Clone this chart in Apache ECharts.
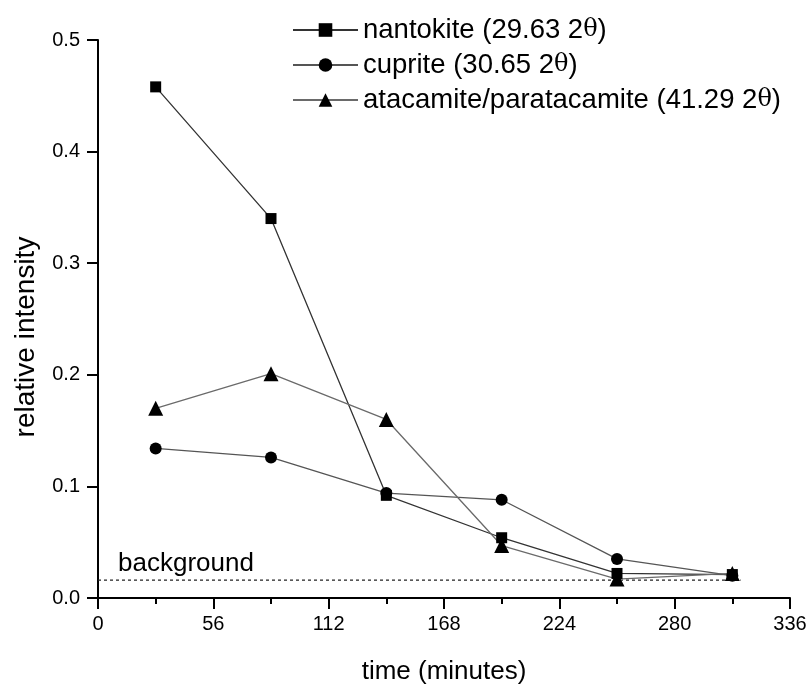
<!DOCTYPE html>
<html>
<head>
<meta charset="utf-8">
<script src="https://cdn.jsdelivr.net/npm/echarts@6/dist/echarts.min.js"></script>
<style>
  html, body { margin: 0; padding: 0; background: #fff; }
  #chart { width: 811px; height: 690px; }
</style>
</head>
<body>
<div id="chart"></div>
<script>
// sampling times (minutes)
const times = [28, 84, 140, 196, 252, 308];
const nantokite = [0.458, 0.340, 0.092, 0.054, 0.022, 0.021];
const cuprite = [0.134, 0.126, 0.094, 0.088, 0.035, 0.020];
const atacamite = [0.170, 0.201, 0.160, 0.047, 0.017, 0.022];
const backgroundLevel = 0.016;
const backgroundSpan = [0, 312];

const names = [
    'nantokite (29.63 2θ)',
    'cuprite (30.65 2θ)',
    'atacamite/paratacamite (41.29 2θ)'
];

const font = 'Liberation Sans, Arial, sans-serif';
const chart = echarts.init(document.getElementById('chart'));

const pairs = (ys) => times.map((t, i) => [t, ys[i]]);

const mkSeries = (name, ys, symbol, size, lineColor) => ({
    type: 'line',
    name: name,
    data: pairs(ys),
    symbol: symbol,
    symbolSize: size,
    showAllSymbol: true,
    lineStyle: { width: 1.3, color: lineColor },
    itemStyle: { color: '#000', borderWidth: 0 },
    emphasis: { disabled: true },
    z: 3
});

const option = {
    animation: false,
    backgroundColor: '#fff',
    grid: { left: 98, right: 21, top: 40, bottom: 87 },
    legend: {
        data: names,
        orient: 'vertical',
        left: 287,
        top: 11,
        itemWidth: 65,
        itemHeight: 17,
        itemGap: 7,
        formatter: (n) => n.replace('θ', '{th|θ}'),
        textStyle: {
            fontFamily: font, fontSize: 27.5, color: '#000',
            rich: { th: { fontFamily: 'DejaVu Serif', fontSize: 24, color: '#000' } }
        }
    },
    xAxis: {
        type: 'value',
        min: 0,
        max: 336,
        interval: 56,
        name: 'time (minutes)',
        nameLocation: 'middle',
        nameGap: 61,
        nameTextStyle: { fontFamily: font, fontSize: 26, color: '#000' },
        axisLine: { onZero: false, lineStyle: { color: '#000', width: 2 } },
        axisTick: { inside: false, length: 11, lineStyle: { color: '#000', width: 2 } },
        minorTick: { show: true, splitNumber: 2, length: 6, lineStyle: { color: '#000', width: 2 } },
        axisLabel: { margin: 16, fontFamily: font, fontSize: 20, color: '#000' },
        splitLine: { show: false }
    },
    yAxis: {
        type: 'value',
        min: 0,
        max: 0.5,
        interval: 0.1,
        name: 'relative intensity',
        nameLocation: 'middle',
        nameGap: 58,
        nameTextStyle: { fontFamily: font, fontSize: 28, color: '#000', padding: [0, 36, 0, 0] },
        axisLine: { show: true, onZero: false, lineStyle: { color: '#000', width: 2 } },
        axisTick: { show: true, inside: false, length: 11, lineStyle: { color: '#000', width: 2 } },
        axisLabel: {
            margin: 18, fontFamily: font, fontSize: 20, color: '#000',
            formatter: (v) => v.toFixed(1)
        },
        splitLine: { show: false }
    },
    series: [
        mkSeries(names[0], nantokite, 'rect', 11, '#333'),
        mkSeries(names[1], cuprite, 'circle', 12, '#555'),
        mkSeries(names[2], atacamite, 'triangle', 15, '#6a6a6a'),
        {
            type: 'line',
            name: 'background',
            data: backgroundSpan.map((t) => [t, backgroundLevel]),
            symbol: 'none',
            lineStyle: { width: 1.2, type: [3, 3], color: '#222' },
            emphasis: { disabled: true },
            z: 2
        }
    ]
};

chart.setOption(option);

// "background" annotation just above the dashed level line
const p = chart.convertToPixel({ gridIndex: 0 }, [backgroundSpan[0], backgroundLevel]);
chart.setOption({
    graphic: [{
        type: 'text',
        left: p[0] + 20,
        top: p[1] - 29,
        style: { text: 'background', font: '26px ' + font, fill: '#000' }
    }]
});
</script>
</body>
</html>
